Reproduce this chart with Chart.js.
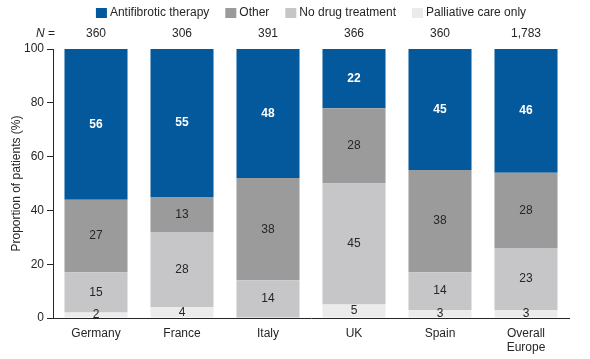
<!DOCTYPE html>
<html><head><meta charset="utf-8">
<script src="https://cdn.jsdelivr.net/npm/chart.js@4"></script>
<style>html,body{margin:0;padding:0;background:#fff}#wrap{width:590px;height:359px;position:relative}</style>
</head><body><div id="wrap"><canvas id="c"></canvas></div>
<script>
const categories = ['Germany', 'France', 'Italy', 'UK', 'Spain', ['Overall', 'Europe']];
const sampleSizes = ['360', '306', '391', '366', '360', '1,783'];
const antifibrotic = [56, 55, 48, 22, 45, 46];
const other = [27, 13, 38, 28, 38, 28];
const noDrug = [15, 28, 14, 45, 14, 23];
const palliative = [2, 4, 0, 5, 3, 3];
const yTicks = [0, 20, 40, 60, 80, 100];
const seriesNames = ['Antifibrotic therapy', 'Other', 'No drug treatment', 'Palliative care only'];
const seriesColors = ['#04599c', '#9b9b9b', '#c6c6c8', '#ebebeb'];

const FONT = '"Liberation Sans", Arial, Helvetica, sans-serif';
const TXT = '#262626';

const datasets = [
  { label: seriesNames[3], data: palliative, backgroundColor: seriesColors[3] },
  { label: seriesNames[2], data: noDrug, backgroundColor: seriesColors[2] },
  { label: seriesNames[1], data: other, backgroundColor: seriesColors[1] },
  { label: seriesNames[0], data: antifibrotic, backgroundColor: seriesColors[0] }
].map(d => Object.assign(d, { barPercentage: 0.733, categoryPercentage: 1, borderWidth: 0 }));

const decor = {
  id: 'decor',
  afterDatasetsDraw(chart) {
    const ctx = chart.ctx;
    const ca = chart.chartArea;
    ctx.save();
    // segment labels
    chart.data.datasets.forEach((ds, i) => {
      const meta = chart.getDatasetMeta(i);
      const top = ds.label === seriesNames[0];
      ctx.font = (top ? 'bold ' : '') + '12px ' + FONT;
      ctx.fillStyle = top ? '#ffffff' : TXT;
      ctx.textAlign = 'center';
      ctx.textBaseline = 'middle';
      meta.data.forEach((el, j) => {
        const v = ds.data[j];
        if (!v) return;
        ctx.fillText(String(v), el.x, (el.y + el.base) / 2);
      });
    });
    // N row
    const xs = chart.scales.x;
    ctx.font = '12px ' + FONT;
    ctx.fillStyle = TXT;
    ctx.textAlign = 'center';
    ctx.textBaseline = 'middle';
    sampleSizes.forEach((n, j) => ctx.fillText(n, xs.getPixelForValue(j), 33.5));
    ctx.textAlign = 'left';
    ctx.font = 'italic 12px ' + FONT;
    ctx.fillText('N', 36, 33.5);
    const wN = ctx.measureText('N').width;
    ctx.font = '12px ' + FONT;
    ctx.fillText(' =', 36 + wN, 33.5);
    // legend
    const order = [0, 1, 2, 3];
    const boxW = 11, boxH = 10, gap = 3, spacing = 16;
    ctx.font = '12px ' + FONT;
    const widths = order.map(k => boxW + gap + ctx.measureText(seriesNames[k]).width);
    const total = widths.reduce((a, b) => a + b, 0) + spacing * (order.length - 1);
    let x = (ca.left + ca.right) / 2 - total / 2;
    const ly = 13;
    order.forEach((k, idx) => {
      ctx.fillStyle = seriesColors[k];
      ctx.fillRect(x, ly - boxH / 2, boxW, boxH);
      ctx.fillStyle = TXT;
      ctx.textAlign = 'left';
      ctx.fillText(seriesNames[k], x + boxW + gap, ly);
      x += widths[idx] + spacing;
    });
    // y title
    ctx.translate(17, (ca.top + ca.bottom) / 2);
    ctx.rotate(-Math.PI / 2);
    ctx.textAlign = 'center';
    ctx.fillText('Proportion of patients (%)', 0, 0);
    ctx.restore();
  }
};

new Chart(document.getElementById('c'), {
  type: 'bar',
  data: { labels: categories, datasets },
  options: {
    responsive: true,
    maintainAspectRatio: false,
    animation: false,
    layout: { padding: { top: 49, right: 21, left: 0, bottom: 0 } },
    plugins: { legend: { display: false }, tooltip: { enabled: false } },
    scales: {
      x: {
        stacked: true,
        grid: { display: false, drawTicks: false },
        border: { display: true, color: TXT, width: 1 },
        ticks: { color: TXT, font: { size: 12, family: FONT }, padding: 8, maxRotation: 0, autoSkip: false },
        afterFit(s) { s.height = 41; }
      },
      y: {
        stacked: true,
        min: 0, max: 100,
        afterBuildTicks(s) { s.ticks = yTicks.map(v => ({ value: v })); },
        grid: { display: true, drawOnChartArea: false, drawTicks: true, tickLength: 6, color: TXT, lineWidth: 1 },
        border: { display: true, color: TXT, width: 1 },
        ticks: { color: TXT, font: { size: 12, family: FONT }, padding: 3 },
        afterFit(s) { s.width = 53; }
      }
    }
  },
  plugins: [decor]
});
</script>
</body></html>
